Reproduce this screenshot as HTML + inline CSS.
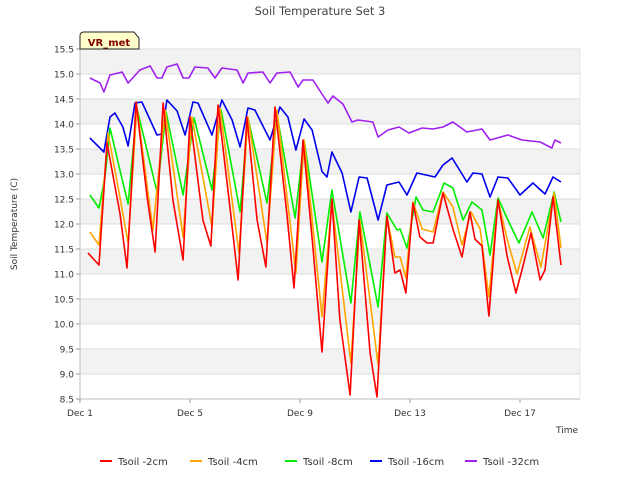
<!DOCTYPE html>
<html><head><meta charset="utf-8"><style>
html,body{margin:0;padding:0;background:#fff;}
svg{display:block;font-family:"DejaVu Sans","Liberation Sans",sans-serif;}
</style></head><body>
<svg id="chart" width="640" height="480" viewBox="0 0 640 480" xmlns="http://www.w3.org/2000/svg">
<text x="320" y="15" text-anchor="middle" font-size="11.5" fill="#444">Soil Temperature Set 3</text>
<g id="bands"></g>
<g id="grid"></g>
<g id="series"></g>
<g id="axes"></g>
<text x="578" y="433" text-anchor="end" font-size="9" fill="#333">Time</text>
<text x="17" y="224" text-anchor="middle" font-size="9" fill="#333" transform="rotate(-90 17 224)">Soil Temperature (C)</text>
<g>
<path d="M80,49 L80,36 Q80,32 84,32 L134,32 L139,38 L139,49 Z" fill="#ffffcc" stroke="#222" stroke-width="1"/>
<text x="109" y="46" text-anchor="middle" font-size="10" font-weight="bold" fill="#800000">VR_met</text>
</g>
<g id="legend"></g>
</svg>
<script>
const seriesNames=["Tsoil -2cm","Tsoil -4cm","Tsoil -8cm","Tsoil -16cm","Tsoil -32cm"];
const seriesColors=["#ff0000","#ffa500","#00ee00","#0000ee","#a020f0"];
const xTickLabels=["Dec 1","Dec 5","Dec 9","Dec 13","Dec 17"];
const xTickDays=[0,4,8,12,16];
const yTicks=[8.5,9.0,9.5,10.0,10.5,11.0,11.5,12.0,12.5,13.0,13.5,14.0,14.5,15.0,15.5];

const d2cmDays=[0.29,0.69,0.98,1.45,1.71,2.04,2.44,2.73,3.02,3.38,3.75,4.0,4.47,4.76,5.02,5.45,5.75,6.07,6.44,6.76,7.09,7.53,7.78,8.11,8.47,8.8,9.16,9.45,9.82,10.15,10.55,10.8,11.16,11.45,11.64,11.85,12.11,12.36,12.62,12.84,13.2,13.56,13.89,14.18,14.36,14.62,14.87,15.2,15.53,15.85,16.11,16.4,16.73,16.91,17.2,17.49];
const d2cmVals=[11.42,11.18,13.62,12.22,11.12,14.44,12.54,11.44,14.42,12.48,11.28,14.14,12.08,11.56,14.38,12.34,10.88,14.14,12.08,11.14,14.34,12.16,10.72,13.68,11.54,9.44,12.5,10.08,8.58,12.08,9.42,8.54,12.16,11.02,11.08,10.62,12.42,11.74,11.62,11.62,12.62,11.9,11.34,12.24,11.7,11.56,10.16,12.48,11.36,10.62,11.16,11.82,10.88,11.08,12.54,11.18];

const d4cmDays=[0.36,0.69,1.02,1.45,1.75,2.07,2.65,3.09,3.75,4.07,4.8,5.09,5.78,6.11,6.8,7.16,7.85,8.15,8.8,9.16,9.85,10.18,10.84,11.16,11.45,11.64,11.85,12.11,12.44,12.84,13.2,13.56,13.89,14.22,14.55,14.87,15.2,15.53,15.89,16.36,16.76,17.24,17.49];
const d4cmVals=[11.84,11.58,13.82,12.54,11.62,14.34,11.88,14.28,11.74,14.14,11.94,14.32,11.42,14.14,11.62,14.28,11.02,13.68,10.15,12.45,9.22,12.08,9.18,12.16,11.34,11.34,10.92,12.44,11.9,11.84,12.64,12.34,11.58,12.24,11.9,10.54,12.48,11.7,11.0,11.94,11.14,12.62,11.52];

const d8cmDays=[0.36,0.69,0.91,1.09,1.45,1.75,2.07,2.8,3.13,3.75,4.15,4.8,5.13,5.82,6.11,6.8,7.16,7.82,8.15,8.8,9.16,9.85,10.18,10.84,11.16,11.53,11.64,11.89,12.22,12.47,12.84,13.24,13.56,13.93,14.25,14.62,14.91,15.2,15.56,15.96,16.44,16.84,17.24,17.49];
const d8cmVals=[12.58,12.32,12.94,13.92,13.08,12.4,14.32,12.64,14.24,12.58,14.12,12.68,14.28,12.24,14.12,12.42,14.2,12.12,13.68,11.24,12.68,10.42,12.24,10.34,12.22,11.88,11.9,11.52,12.54,12.28,12.24,12.82,12.72,12.08,12.44,12.28,11.38,12.52,12.08,11.62,12.24,11.72,12.64,12.04];

const d16cmDays=[0.36,0.87,1.09,1.27,1.56,1.75,2.0,2.25,2.8,2.98,3.16,3.53,3.82,4.11,4.29,4.8,5.16,5.53,5.82,6.11,6.36,6.91,7.27,7.56,7.85,8.15,8.44,8.8,8.98,9.16,9.53,9.85,10.15,10.44,10.84,11.16,11.6,11.89,12.25,12.91,13.2,13.53,14.07,14.29,14.62,14.91,15.2,15.56,16.0,16.47,16.91,17.2,17.49];
const d16cmVals=[13.72,13.44,14.14,14.22,13.94,13.56,14.42,14.44,13.78,13.8,14.48,14.26,13.78,14.44,14.42,13.78,14.48,14.08,13.54,14.32,14.28,13.68,14.34,14.14,13.48,14.1,13.88,13.05,12.94,13.44,13.02,12.24,12.94,12.92,12.08,12.78,12.84,12.58,13.02,12.94,13.18,13.32,12.84,13.02,13.0,12.54,12.94,12.92,12.58,12.82,12.6,12.94,12.84];

const d32cmDays=[0.36,0.73,0.87,1.09,1.53,1.75,2.18,2.55,2.8,2.98,3.16,3.53,3.75,3.96,4.18,4.65,4.91,5.16,5.71,5.93,6.11,6.65,6.91,7.16,7.64,7.93,8.11,8.47,8.8,9.02,9.2,9.56,9.89,10.11,10.65,10.84,11.2,11.6,11.96,12.44,12.84,13.2,13.56,14.07,14.62,14.91,15.56,16.07,16.73,17.16,17.27,17.49];
const d32cmVals=[14.92,14.82,14.64,14.98,15.04,14.82,15.08,15.16,14.92,14.92,15.14,15.2,14.92,14.92,15.14,15.12,14.92,15.12,15.08,14.82,15.02,15.04,14.82,15.02,15.04,14.74,14.88,14.88,14.6,14.42,14.56,14.4,14.04,14.08,14.04,13.74,13.88,13.94,13.82,13.92,13.9,13.94,14.04,13.84,13.9,13.68,13.78,13.68,13.64,13.52,13.68,13.62];

const allDays=[d2cmDays,d4cmDays,d8cmDays,d16cmDays,d32cmDays];
const allVals=[d2cmVals,d4cmVals,d8cmVals,d16cmVals,d32cmVals];

const L=80,R=580,T=49,B=399,yMin=8.5,yMax=15.5,pxPerDay=27.5;
const xs=d=>L+d*pxPerDay;
const ys=v=>B-(v-yMin)/(yMax-yMin)*(B-T);
const NS="http://www.w3.org/2000/svg";
function mk(tag,attrs,parent){const e=document.createElementNS(NS,tag);for(const k in attrs)e.setAttribute(k,attrs[k]);parent.appendChild(e);return e;}

const bands=document.getElementById('bands');
for(let i=0;i<yTicks.length-1;i++){
  const lo=yTicks[i],hi=yTicks[i+1];
  const gray=(i%2===1);
  const r=mk('rect',{x:L,y:ys(hi),width:R-L,height:ys(lo)-ys(hi),fill:gray?'#f2f2f2':'#ffffff'},bands);
  
  
}
const grid=document.getElementById('grid');
const axes=document.getElementById('axes');
yTicks.forEach(v=>{
  const y=ys(v);
  const g=mk('line',{x1:L,x2:R,y1:y,y2:y,stroke:'#dcdcdc','stroke-width':1},grid);
  
  
  const t=mk('line',{x1:L-4,x2:L,y1:y,y2:y,stroke:'#999'},axes);
  
  
  const lb=mk('text',{x:L-6,y:y+3.5,'text-anchor':'end','font-size':9,fill:'#333'},axes);
  lb.textContent=v.toFixed(1);
  
  
});
xTickDays.forEach((d,i)=>{
  const x=xs(d);
  const t=mk('line',{x1:x,x2:x,y1:B,y2:B+4,stroke:'#999'},axes);
  
  
  const lb=mk('text',{x:x,y:B+17,'text-anchor':'middle','font-size':9,fill:'#333'},axes);
  lb.textContent=xTickLabels[i];
  
  
});
const ax1=mk('line',{x1:L,x2:L,y1:T,y2:B,stroke:'#bbb'},axes);


const ax2=mk('line',{x1:L,x2:R,y1:B,y2:B,stroke:'#bbb'},axes);


const ax3=mk('line',{x1:R,x2:R,y1:T,y2:B,stroke:'#e4e4e4'},axes);



const series=document.getElementById('series');
const order=[4,3,2,1,0];
order.forEach(i=>{
  const pts=allDays[i].map((d,j)=>xs(d).toFixed(1)+','+ys(allVals[i][j]).toFixed(1)).join(' ');
  const p=mk('polyline',{points:pts,fill:'none',stroke:seriesColors[i],'stroke-width':1.6,'stroke-linejoin':'round'},series);
  
  
});

const legend=document.getElementById('legend');
const legX=[100,190,285,370,465];
seriesNames.forEach((n,i)=>{
  const g=mk('g',{},legend);
  
  
  mk('line',{x1:legX[i],x2:legX[i]+12,y1:461,y2:461,stroke:seriesColors[i],'stroke-width':2},g);
  const t=mk('text',{x:legX[i]+18,y:465,'font-size':10,fill:'#333'},g);
  t.textContent=n;
});
</script>
</body></html>
